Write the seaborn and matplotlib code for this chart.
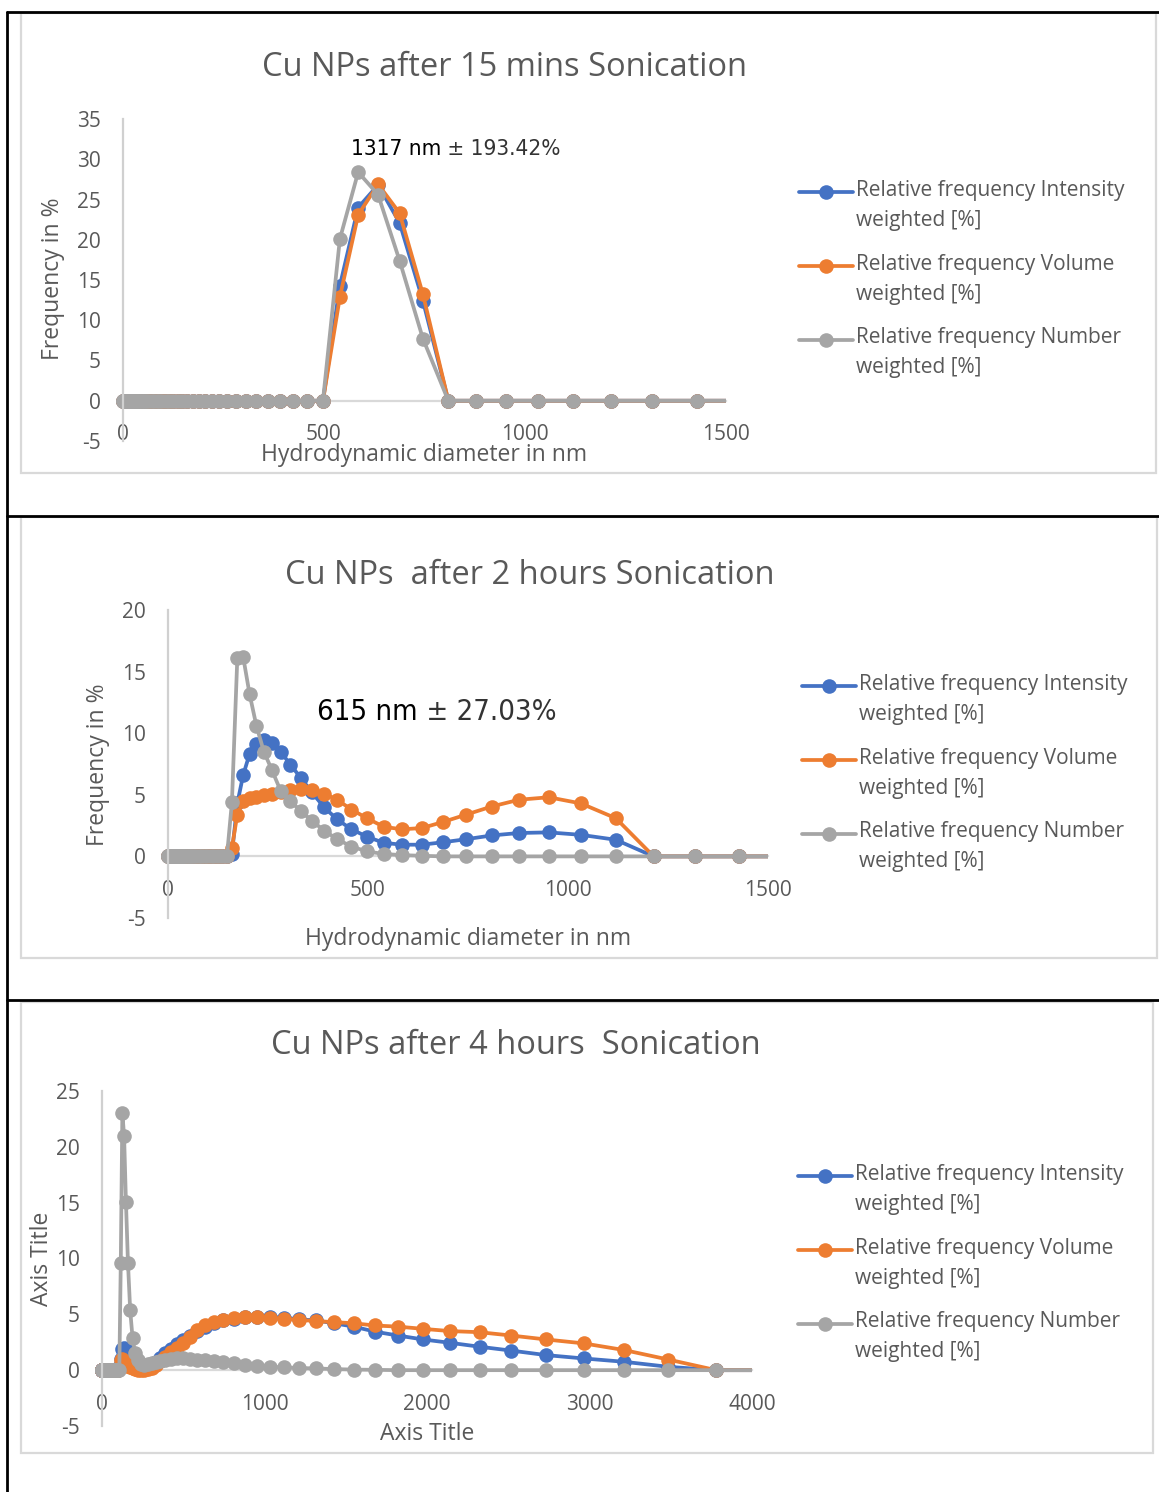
import matplotlib
matplotlib.use("Agg")
import matplotlib.pyplot as plt
import seaborn as sns
import pandas as pd
from matplotlib.lines import Line2D
from matplotlib.patches import Rectangle
from matplotlib import font_manager
from matplotlib.legend_handler import HandlerLine2D

# ---------------- data ----------------
# size bins (nm) below 95 nm: all series are zero there
LOW_BINS = [1.0, 1.1, 1.2, 1.3, 1.4, 1.5, 1.7, 1.8, 2.0, 2.1, 2.3, 2.5, 2.7, 3.0, 3.2, 3.5,
            3.8, 4.1, 4.5, 4.9, 5.3, 5.7, 6.2, 6.7, 7.3, 7.9, 8.6, 9.3, 10.1, 11.0, 11.9,
            12.9, 14.0, 15.2, 16.5, 17.9, 19.4, 21.0, 22.8, 24.7, 26.8, 29.1, 31.6, 34.2,
            37.1, 40.3, 43.7, 47.3, 51.3, 55.7, 60.4, 65.5, 71.0, 77.0, 83.5, 90.6]
LOW_VALUES = [0.0] * len(LOW_BINS)

BINS = [98.2, 106.5, 115.5, 125.3, 135.9, 147.3, 159.8, 173.3, 187.9, 203.8,
        221.0, 239.7, 259.9, 281.9, 305.7, 331.6, 359.6, 390.0, 422.9, 458.7,
        497.4, 539.5, 585.0, 634.5, 688.1, 746.2, 809.3, 877.7, 951.9, 1032.3,
        1119.5, 1214.1, 1316.7, 1428.0, 1548.7, 1679.5, 1821.4, 1975.3, 2142.2, 2323.2,
        2519.5, 2732.4, 2963.3, 3213.7, 3485.3, 3779.8, 4099.1]

# --- 15 min sonication ---
int_15 = [0, 0, 0, 0, 0, 0, 0, 0, 0, 0,
          0, 0, 0, 0, 0, 0, 0, 0, 0, 0,
          0, 14.3, 24.0, 26.8, 22.1, 12.4, 0, 0, 0, 0,
          0, 0, 0, 0, 0, 0, 0, 0, 0, 0,
          0, 0, 0, 0, 0, 0, 0]
vol_15 = [0, 0, 0, 0, 0, 0, 0, 0, 0, 0,
          0, 0, 0, 0, 0, 0, 0, 0, 0, 0,
          0, 12.9, 23.1, 26.9, 23.3, 13.2, 0, 0, 0, 0,
          0, 0, 0, 0, 0, 0, 0, 0, 0, 0,
          0, 0, 0, 0, 0, 0, 0]
num_15 = [0, 0, 0, 0, 0, 0, 0, 0, 0, 0,
          0, 0, 0, 0, 0, 0, 0, 0, 0, 0,
          0, 20.1, 28.4, 25.6, 17.4, 7.7, 0, 0, 0, 0,
          0, 0, 0, 0, 0, 0, 0, 0, 0, 0,
          0, 0, 0, 0, 0, 0, 0]

# --- 2 hours sonication ---
int_2h = [0, 0, 0, 0, 0, 0, 0.2, 4.3, 6.6, 8.3,
          9.15, 9.45, 9.2, 8.5, 7.45, 6.4, 5.2, 4.0, 3.0, 2.2,
          1.6, 1.1, 0.95, 0.95, 1.15, 1.4, 1.7, 1.9, 1.95, 1.75,
          1.35, 0, 0, 0, 0, 0, 0, 0, 0, 0,
          0, 0, 0, 0, 0, 0, 0]
vol_2h = [0, 0, 0, 0, 0, 0, 0.7, 3.4, 4.5, 4.7,
          4.8, 4.95, 5.1, 5.25, 5.4, 5.5, 5.4, 5.1, 4.6, 3.8,
          3.1, 2.4, 2.2, 2.3, 2.8, 3.4, 4.05, 4.6, 4.8, 4.3,
          3.1, 0, 0, 0, 0, 0, 0, 0, 0, 0,
          0, 0, 0, 0, 0, 0, 0]
num_2h = [0, 0, 0, 0, 0, 0, 4.4, 16.1, 16.2, 13.2,
          10.6, 8.5, 7.0, 5.3, 4.5, 3.7, 2.9, 2.1, 1.4, 0.8,
          0.4, 0.2, 0.1, 0.05, 0, 0, 0, 0, 0, 0,
          0, 0, 0, 0, 0, 0, 0, 0, 0, 0,
          0, 0, 0, 0, 0, 0, 0]

# --- 4 hours sonication ---
int_4h = [0, 0.3, 1.0, 1.9, 2.0, 1.9, 1.6, 1.2, 0.8, 0.5,
          0.3, 0.2, 0.2, 0.3, 0.4, 0.7, 1.1, 1.5, 1.9, 2.3,
          2.7, 3.1, 3.5, 3.9, 4.2, 4.45, 4.6, 4.75, 4.8, 4.75,
          4.7, 4.55, 4.45, 4.2, 3.9, 3.45, 3.1, 2.75, 2.45, 2.1,
          1.75, 1.35, 1.05, 0.75, 0.3, 0, 0]
vol_4h = [0, 0.2, 0.9, 1.0, 0.8, 0.6, 0.4, 0.25, 0.15, 0.1,
          0.05, 0.05, 0.05, 0.1, 0.2, 0.45, 0.8, 1.2, 1.6, 2.0,
          2.4, 3.0, 3.6, 4.0, 4.3, 4.5, 4.7, 4.8, 4.8, 4.7,
          4.6, 4.5, 4.4, 4.3, 4.2, 4.0, 3.9, 3.7, 3.5, 3.4,
          3.1, 2.75, 2.4, 1.8, 0.95, 0, 0]
num_4h = [0, 0, 9.6, 23.0, 21.0, 15.1, 9.6, 5.4, 2.9, 1.5,
          0.9, 0.55, 0.5, 0.55, 0.65, 0.75, 0.85, 0.95, 1.0, 1.05,
          1.05, 1.0, 0.95, 0.9, 0.8, 0.7, 0.6, 0.5, 0.4, 0.3,
          0.25, 0.2, 0.15, 0.1, 0.05, 0.03, 0, 0, 0, 0,
          0, 0, 0, 0, 0, 0, 0]

SERIES_NAMES = ["Relative frequency Intensity\nweighted [%]",
                "Relative frequency Volume\nweighted [%]",
                "Relative frequency Number\nweighted [%]"]
COLORS = ["#4472C4", "#ED7D31", "#A5A5A5"]

TITLES = ["Cu NPs after 15 mins Sonication",
          "Cu NPs  after 2 hours Sonication",
          "Cu NPs after 4 hours  Sonication"]
XLABELS = ["Hydrodynamic diameter in nm", "Hydrodynamic diameter in nm", "Axis Title"]
YLABELS = ["Frequency in %", "Frequency in %", "Axis Title"]
XTICKS = [[0, 500, 1000, 1500], [0, 500, 1000, 1500], [0, 1000, 2000, 3000, 4000]]
YTICKS = [[-5, 0, 5, 10, 15, 20, 25, 30, 35], [-5, 0, 5, 10, 15, 20],
          [-5, 0, 5, 10, 15, 20, 25]]
ANNOT_MAIN = ["1317 nm", "615 nm", None]
ANNOT_ERR = ["\u00b1 193.42%", "\u00b1 27.03%", None]

# ---------------- style ----------------
sns.set_theme(style="white")
plt.rcParams["font.family"] = ["Open Sans", "DejaVu Sans"]
plt.rcParams["axes.unicode_minus"] = False
TXT = "#595959"

# a condensed face for the annotations, if one is installed
cond_names = [f.name for f in font_manager.fontManager.ttflist
              if f.stretch in ("condensed", "semi-condensed", "extra-condensed")
              or "Condensed" in f.name or "Narrow" in f.name]
COND_FAM = ([cond_names[0]] if cond_names else []) + ["DejaVu Sans"]


class FirstLineHandler(HandlerLine2D):
    """Legend handle aligned with the first line of a two-line label."""

    def create_artists(self, legend, orig_handle, xdescent, ydescent, width, height,
                       fontsize, trans):
        return super().create_artists(legend, orig_handle, xdescent, ydescent - 20,
                                      width, height, fontsize, trans)


W, H = 1159, 1492
fig = plt.figure(figsize=(W / 100, H / 100), dpi=100)


def fx(x):
    return x / W


def fy(y):
    return 1 - y / H


# outer frame (black)
for (x0, y0, x1, y1) in [(7, 12, 7, H), (7, 12, W, 12), (7, 516, W, 516), (7, 1000, W, 1000)]:
    fig.add_artist(Line2D([fx(x0), fx(x1)], [fy(y0), fy(y1)], color="black", lw=2.0))

# chart-area borders (light gray)
for (x0, y0, x1, y1) in [(21, 13, 1156, 473), (21, 517, 1157, 958), (21, 1002, 1153, 1453)]:
    fig.add_artist(Rectangle((fx(x0), fy(y1)), fx(x1) - fx(x0), fy(y0) - fy(y1),
                             fill=False, edgecolor="#D9D9D9", lw=1.6))

layout = [
    dict(box=(123, 119, 726, 441), xlim=(0, 1500), ylim=(-5, 35), title=(505, 68),
         ylab=(53, 279), xlab=(424, 455), leg=(799, 180), ann=(351, 149), annfs=16.2),
    dict(box=(168, 610, 768, 918), xlim=(0, 1500), ylim=(-5, 20), title=(530, 575),
         ylab=(98, 765), xlab=(468, 939), leg=(802, 674), ann=(317, 712), annfs=21),
    dict(box=(102, 1091, 752, 1426), xlim=(0, 4000), ylim=(-5, 25), title=(516, 1045),
         ylab=(42, 1259), xlab=(427, 1434), leg=(798, 1164), ann=None, annfs=20),
]
data_sets = [(int_15, vol_15, num_15), (int_2h, vol_2h, num_2h), (int_4h, vol_4h, num_4h)]

for i, (lay, series) in enumerate(zip(layout, data_sets)):
    l, t, r, b = lay["box"]
    ax = fig.add_axes([fx(l), fy(b), fx(r) - fx(l), fy(t) - fy(b)])
    ax.set_facecolor("none")

    frames = []
    for name, vals in zip(SERIES_NAMES, series):
        frames.append(pd.DataFrame({"diameter": LOW_BINS + BINS,
                                    "freq": LOW_VALUES + list(vals),
                                    "series": name}))
    df = pd.concat(frames, ignore_index=True)
    sns.lineplot(data=df, x="diameter", y="freq", hue="series", hue_order=SERIES_NAMES,
                 palette=COLORS, marker="o", markersize=10.5, markeredgewidth=0,
                 linewidth=2.7, estimator=None, errorbar=None, legend=False, ax=ax)

    clip = Rectangle((-0.025, -0.05), 1.025, 1.1, transform=ax.transAxes)
    for ln in ax.lines:
        ln.set_clip_path(clip)

    ax.set_xlim(*lay["xlim"])
    ax.set_ylim(*lay["ylim"])
    ax.set_xticks(XTICKS[i])
    ax.set_yticks(YTICKS[i])
    ax.set_xlabel("")
    ax.set_ylabel("")
    for s in ["top", "right"]:
        ax.spines[s].set_visible(False)
    ax.spines["bottom"].set_position(("data", 0))
    ax.spines["bottom"].set_color("#D9D9D9")
    ax.spines["bottom"].set_linewidth(1.6)
    ax.spines["bottom"].set_zorder(0.5)
    ax.spines["left"].set_color("#D0D0D0")
    ax.spines["left"].set_linewidth(1.6)
    ax.tick_params(axis="x", length=0, pad=17, labelsize=15, labelcolor=TXT)
    ax.tick_params(axis="y", length=0, pad=16, labelsize=15, labelcolor=TXT)
    ax.grid(False)

    handles = ax.lines[:3]
    leg = ax.legend(handles=handles, labels=SERIES_NAMES, loc="upper left",
                    bbox_to_anchor=(fx(lay["leg"][0]), fy(lay["leg"][1])),
                    bbox_transform=fig.transFigure, frameon=False, fontsize=15,
                    labelcolor=TXT, handlelength=2.6, handletextpad=0.15,
                    labelspacing=1.1, borderpad=0, borderaxespad=0,
                    handler_map={h: FirstLineHandler() for h in handles})
    for txt in leg.get_texts():
        txt.set_linespacing(1.55)

    fig.text(fx(lay["title"][0]), fy(lay["title"][1]), TITLES[i], ha="center", va="center",
             fontsize=23.5, color=TXT)
    fig.text(fx(lay["ylab"][0]), fy(lay["ylab"][1]), YLABELS[i], ha="center", va="center",
             rotation=90, fontsize=16.5, color=TXT)
    fig.text(fx(lay["xlab"][0]), fy(lay["xlab"][1]), XLABELS[i], ha="center", va="center",
             fontsize=16.5, color=TXT)

    if lay["ann"] is not None:
        t1 = fig.text(fx(lay["ann"][0]), fy(lay["ann"][1]), ANNOT_MAIN[i], ha="left",
                      va="center", fontsize=lay["annfs"], color="black", family=COND_FAM,
                      fontstretch="condensed")
        ax.annotate(" " + ANNOT_ERR[i], xy=(1, 0), xycoords=t1, ha="left", va="bottom",
                    fontsize=lay["annfs"], color="#333333", family=COND_FAM,
                    fontstretch="condensed", annotation_clip=False)

fig.savefig("out.png", dpi=100)
